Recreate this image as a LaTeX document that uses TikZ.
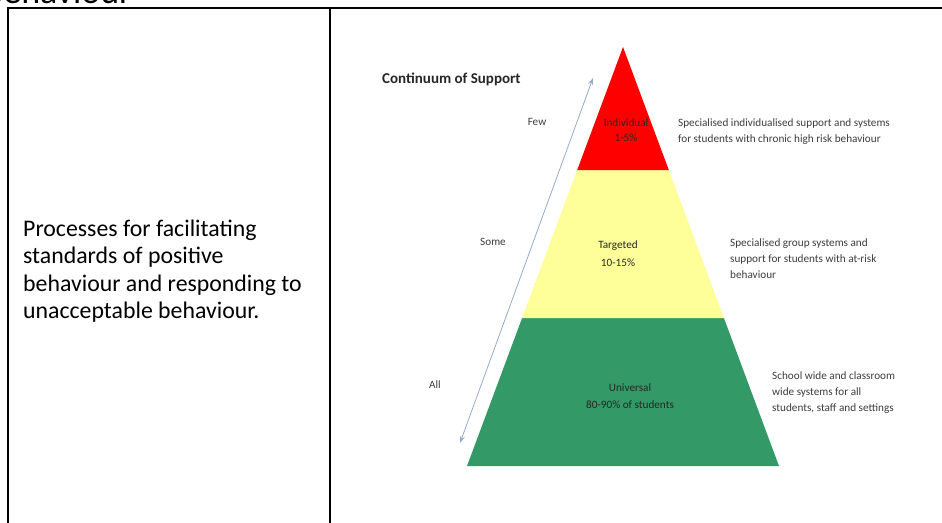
\documentclass[tikz,border=0pt]{standalone}
\usepackage{fontspec}
\setmainfont{Carlito}
\usetikzlibrary{arrows.meta}
\definecolor{tierred}{RGB}{255,0,0}
\definecolor{tieryellow}{RGB}{255,255,153}
\definecolor{tiergreen}{RGB}{51,153,102}
\definecolor{arrowblue}{RGB}{150,170,205}
\definecolor{smalltext}{RGB}{60,60,60}
\tikzset{
  rule/.style={line width=2pt, line cap=rect},
  lefttext/.style={anchor=base west, inner sep=0pt, font=\fontsize{23.8}{28}\selectfont},
  tiertext/.style={anchor=base, inner sep=0pt, font=\fontsize{11.2}{13}\selectfont, text=black!85},
  desctext/.style={anchor=base west, inner sep=0pt, font=\fontsize{11.2}{13}\selectfont, text=smalltext},
  sidetext/.style={anchor=base, inner sep=0pt, font=\fontsize{11.2}{13}\selectfont, text=smalltext},
}
\begin{document}
\begin{tikzpicture}[x=1pt,y=-1pt]
\useasboundingbox (0,0) rectangle (942,522);
\clip (0,0) rectangle (942,522);
% cut-off page heading
\node[anchor=base east, inner sep=0pt, font=\fontsize{36}{40}\selectfont] (heading) at (132,4) {Behaviour};
% table rules
\draw[rule] (8,522) -- (8,8) -- (942,8);
\draw[rule] (330,8) -- (330,522);
% left cell text
\node[lefttext] (l1) at (23,236) {Processes for facilitating};
\node[lefttext] (l2) at (23,263.5) {standards of positive};
\node[lefttext] (l3) at (23,291) {behaviour and responding to};
\node[lefttext] (l4) at (23,318.5) {unacceptable behaviour.};
% pyramid
\fill[tiergreen] (522.1,318) -- (723.9,318) -- (779,466) -- (467,466) -- cycle;
\fill[tieryellow] (577.2,170) -- (668.8,170) -- (723.9,318) -- (522.1,318) -- cycle;
\fill[tierred] (623,47) -- (668.8,170) -- (577.2,170) -- cycle;
% title
\node[anchor=base west, inner sep=0pt, font=\fontsize{15}{17}\selectfont\bfseries, text=black!85] (title) at (382,83) {Continuum of Support};
% arrow
\coordinate (atop) at (593,78);
\coordinate (abot) at (460,443);
\draw[arrowblue, line width=0.8pt, {Stealth[length=7pt,width=5pt]}-{Stealth[length=7pt,width=5pt]}] (abot) -- (atop);
% side labels
\node[sidetext] (few) at (537,125) {Few};
\node[sidetext] (some) at (493,245) {Some};
\node[sidetext] (all) at (435,388) {All};
% tier labels
\node[tiertext] (r1) at (626,126) {Individual};
\node[tiertext] (r2) at (626,141) {1-5\%};
\node[tiertext] (y1) at (618,248) {Targeted};
\node[tiertext] (y2) at (618,266) {10-15\%};
\node[tiertext] (g1) at (630,391) {Universal};
\node[tiertext] (g2) at (630,408) {80-90\% of students};
% descriptions
\node[desctext] (d1a) at (678,126) {Specialised individualised support and systems};
\node[desctext] (d1b) at (678,142) {for students with chronic high risk behaviour};
\node[desctext] (d2a) at (730,246) {Specialised group systems and};
\node[desctext] (d2b) at (730,262) {support for students with at-risk};
\node[desctext] (d2c) at (730,278) {behaviour};
\node[desctext] (d3a) at (772,379) {School wide and classroom};
\node[desctext] (d3b) at (772,395) {wide systems for all};
\node[desctext] (d3c) at (772,411) {students, staff and settings};
\end{tikzpicture}
\end{document}
